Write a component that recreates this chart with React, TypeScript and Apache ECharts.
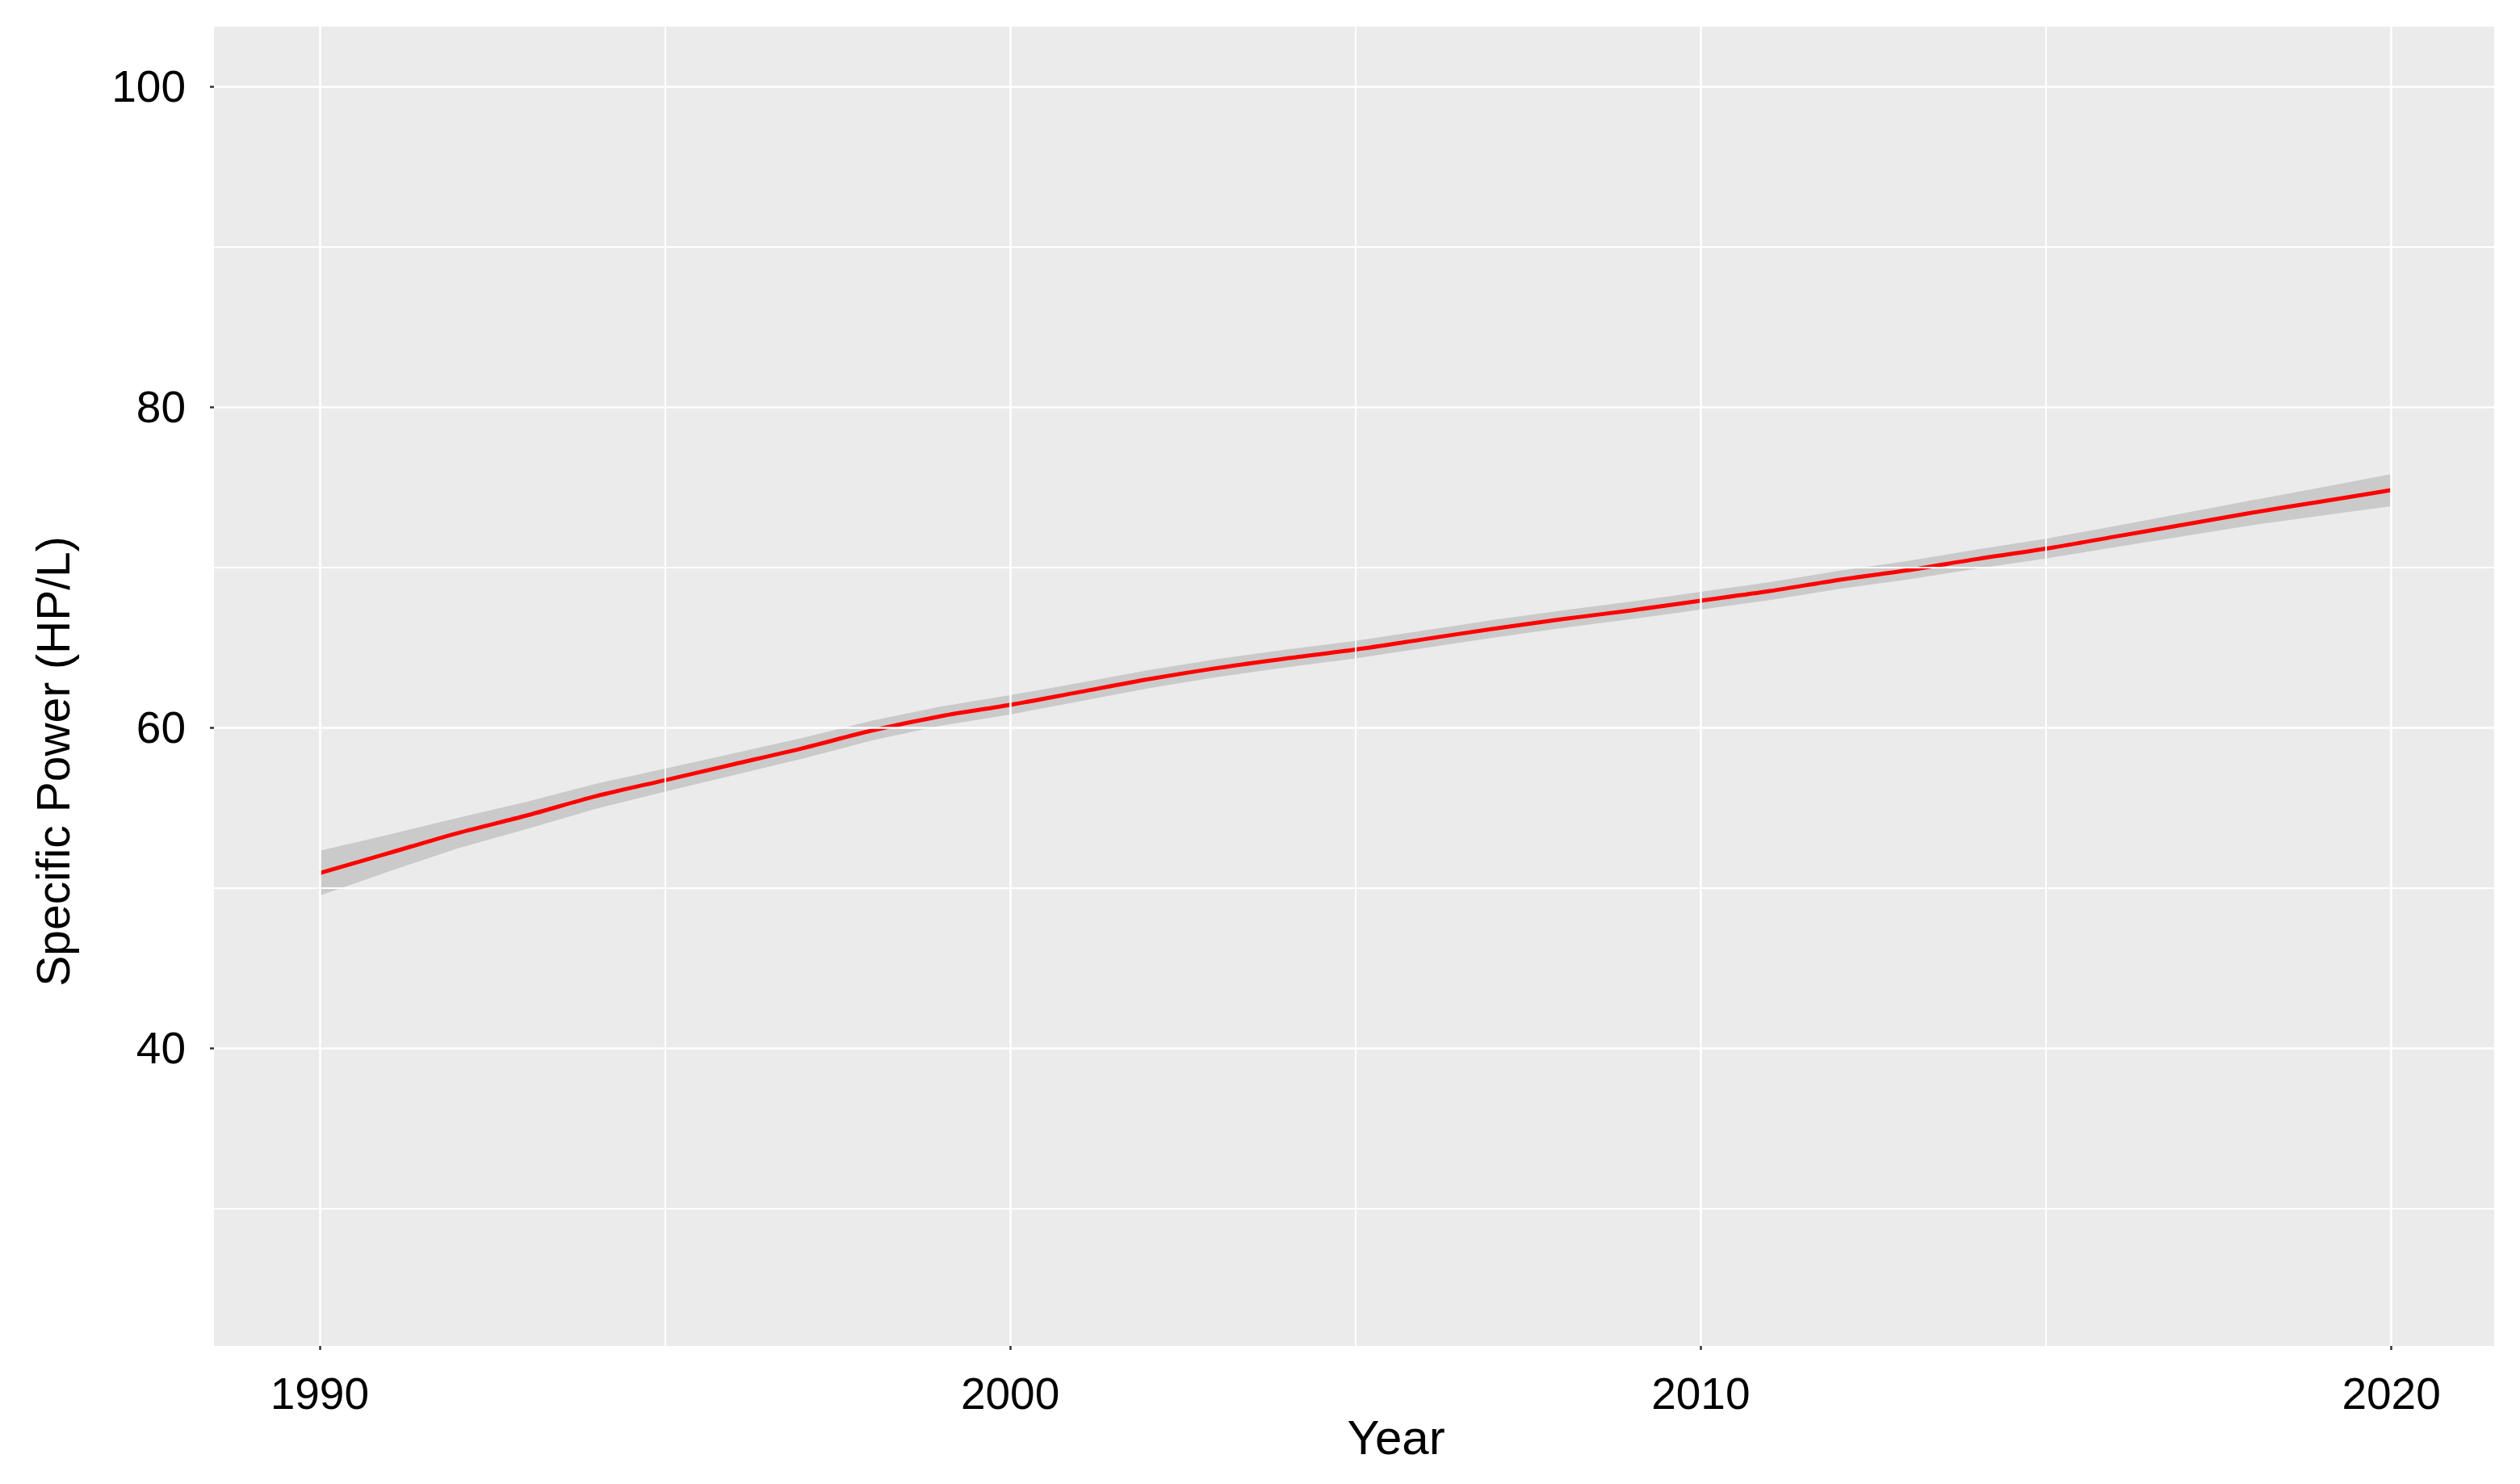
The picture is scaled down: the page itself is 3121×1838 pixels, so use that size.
import React, { useEffect, useRef } from "react";
import * as echarts from "echarts";

const years = [
  1990, 1991, 1992, 1993, 1994, 1995, 1996, 1997, 1998, 1999, 2000, 2001, 2002, 2003, 2004, 2005,
  2006, 2007, 2008, 2009, 2010, 2011, 2012, 2013, 2014, 2015, 2016, 2017, 2018, 2019, 2020,
];
const fit = [
  50.9, 52.15, 53.4, 54.5, 55.7, 56.7, 57.7, 58.7, 59.8, 60.7, 61.4, 62.2, 63.0, 63.7, 64.3, 64.85,
  65.5, 66.15, 66.75, 67.3, 67.9, 68.5, 69.2, 69.8, 70.5, 71.15, 71.9, 72.65, 73.4, 74.1, 74.8,
];
const lower = [
  49.5, 51.0, 52.45, 53.65, 54.92, 55.98, 57.02, 58.05, 59.18, 60.1, 60.8, 61.62, 62.43, 63.14, 63.75, 64.3,
  64.95, 65.6, 66.2, 66.75, 67.35, 67.94, 68.63, 69.22, 69.9, 70.53, 71.24, 71.93, 72.62, 73.22, 73.8,
];
const upper = [
  52.3, 53.3, 54.35, 55.35, 56.48, 57.42, 58.38, 59.35, 60.42, 61.3, 62.0, 62.78, 63.57, 64.26, 64.85, 65.4,
  66.05, 66.7, 67.3, 67.85, 68.45, 69.06, 69.77, 70.38, 71.1, 71.77, 72.56, 73.37, 74.18, 74.98, 75.8,
];

const xMajor = [1990, 2000, 2010, 2020];
const xMinor = [1995, 2005, 2015];
const yMajor = [40, 60, 80, 100];
const yMinor = [30, 50, 70, 90];
const xRange = [1988.47, 2021.49];
const yRange = [21.4, 103.72];

const FONT = "'Liberation Sans', Arial, Helvetica, sans-serif";

export default function App() {
  const ref = useRef<HTMLDivElement>(null);

  useEffect(() => {
    document.body.style.margin = "0";
    if (!ref.current) return;
    const chart = echarts.init(ref.current, undefined, { renderer: "svg" });

    const gridLines: any[] = [];
    xMajor.forEach((v) => gridLines.push({ xAxis: v, lineStyle: { width: 2.6 } }));
    xMinor.forEach((v) => gridLines.push({ xAxis: v, lineStyle: { width: 2.0 } }));
    yMajor.forEach((v) => gridLines.push({ yAxis: v, lineStyle: { width: 2.6 } }));
    yMinor.forEach((v) => gridLines.push({ yAxis: v, lineStyle: { width: 2.0 } }));

    const option: any = {
      animation: false,
      backgroundColor: "#ffffff",
      grid: {
        left: 265,
        top: 33,
        right: 32,
        bottom: 171,
        show: true,
        backgroundColor: "#ebebeb",
        borderWidth: 0,
      },
      xAxis: {
        type: "value",
        min: xRange[0],
        max: xRange[1],
        axisLine: { show: false },
        splitLine: { show: false },
        axisTick: {
          show: true,
          customValues: xMajor,
          length: 5,
          lineStyle: { color: "#333333", width: 2.5 },
        },
        axisLabel: {
          customValues: xMajor,
          formatter: (v: number) => String(v),
          margin: 31,
          fontSize: 55,
          color: "#000000",
          fontFamily: FONT,
        },
      },
      yAxis: {
        type: "value",
        min: yRange[0],
        max: yRange[1],
        axisLine: { show: false },
        splitLine: { show: false },
        axisTick: {
          show: true,
          customValues: yMajor,
          length: 5,
          lineStyle: { color: "#333333", width: 2.5 },
        },
        axisLabel: {
          customValues: yMajor,
          formatter: (v: number) => String(v),
          margin: 35,
          fontSize: 55,
          color: "#000000",
          fontFamily: FONT,
        },
      },
      graphic: [
        {
          type: "text",
          x: 1729,
          y: 1780,
          style: {
            text: "Year",
            fontSize: 60,
            fontFamily: FONT,
            fill: "#000000",
            textAlign: "center",
            textVerticalAlign: "middle",
          },
        },
        {
          type: "text",
          x: 66,
          y: 943,
          rotation: Math.PI / 2,
          style: {
            text: "Specific Power (HP/L)",
            fontSize: 57,
            fontFamily: FONT,
            fill: "#000000",
            textAlign: "center",
            textVerticalAlign: "middle",
          },
        },
      ],
      series: [
        {
          type: "line",
          z: 1,
          data: years.map((y, i) => [y, fit[i]]),
          showSymbol: false,
          symbol: "none",
          lineStyle: { opacity: 0 },
          silent: true,
          markLine: {
            silent: true,
            symbol: ["none", "none"],
            label: { show: false },
            lineStyle: { color: "#ffffff", type: "solid" },
            data: gridLines,
          },
        },
        {
          type: "custom",
          z: 2,
          silent: true,
          clip: true,
          data: [[years[0], fit[0]]],
          renderItem: (params: any, api: any) => {
            if (params.dataIndex !== 0) return null;
            const pts: number[][] = [];
            for (let i = 0; i < years.length; i++) pts.push(api.coord([years[i], upper[i]]));
            for (let i = years.length - 1; i >= 0; i--) pts.push(api.coord([years[i], lower[i]]));
            return {
              type: "polygon",
              shape: { points: pts, smooth: 0 },
              style: { fill: "#cacaca", stroke: "none" },
            };
          },
        },
        {
          type: "line",
          z: 3,
          data: years.map((y, i) => [y, fit[i]]),
          symbol: "none",
          smooth: 0.3,
          lineStyle: { color: "#ff0000", width: 5 },
          silent: true,
        },
      ],
    };

    chart.setOption(option);
    return () => chart.dispose();
  }, []);

  return <div ref={ref} style={{ width: 3121, height: 1838 }} />;
}
